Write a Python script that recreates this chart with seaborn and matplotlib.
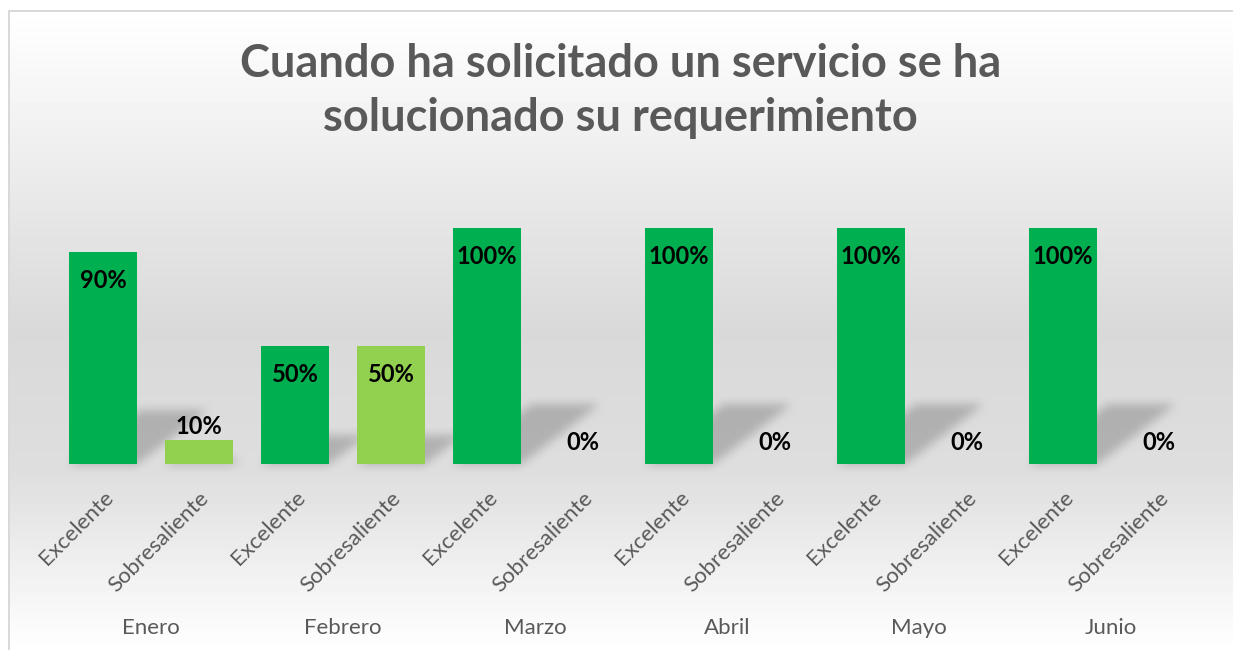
import numpy as np
import pandas as pd
import seaborn as sns
import matplotlib.pyplot as plt

# datos
meses = ['Enero', 'Febrero', 'Marzo', 'Abril', 'Mayo', 'Junio']
calificaciones = ['Excelente', 'Sobresaliente']
excelente = [0.90, 0.50, 1.00, 1.00, 1.00, 1.00]
sobresaliente = [0.10, 0.50, 0.00, 0.00, 0.00, 0.00]
titulo = 'Cuando ha solicitado un servicio se ha\nsolucionado su requerimiento'
colores = {'Excelente': '#00B050', 'Sobresaliente': '#92D050'}

plt.rcParams['font.family'] = ['Lato', 'DejaVu Sans']

rows = []
for m, e, s in zip(meses, excelente, sobresaliente):
    rows.append({'Mes': m, 'Calificacion': 'Excelente', 'Valor': e})
    rows.append({'Mes': m, 'Calificacion': 'Sobresaliente', 'Valor': s})
df = pd.DataFrame(rows)
df['Pos'] = df['Mes'] + ' ' + df['Calificacion']

W, H = 1233, 650
fig = plt.figure(figsize=(W / 100, H / 100), dpi=100)
fig.patch.set_facecolor('white')
ax = fig.add_axes([55 / W, 1 - 464 / H, 1152 / W, 236 / H])
ax.patch.set_alpha(0)
sns.barplot(data=df, x='Pos', y='Valor', hue='Calificacion', palette=colores,
            dodge=False, width=0.71, saturation=1, legend=False, ax=ax, zorder=3)
ax.set_xlim(-0.5, len(df) - 0.5)
ax.set_ylim(0, 1)
for sp in ax.spines.values():
    sp.set_visible(False)
ax.set_yticks([])
ax.set_xlabel('')
ax.set_ylabel('')
ax.set_xticks(range(len(df)))
ax.set_xticklabels(df['Calificacion'], rotation=45, ha='right', rotation_mode='anchor',
                   color='#595959', fontsize=16)
ax.tick_params(axis='x', length=0, pad=17)

# nombres de los meses
for i, m in enumerate(meses):
    ax.text(2 * i + 0.5, -(628 - 464) / 236, m, transform=ax.get_xaxis_transform(),
            ha='center', va='center', fontsize=16, color='#595959')

# etiquetas de datos
for p in ax.patches:
    cx = p.get_x() + p.get_width() / 2
    v = df['Valor'].iloc[int(round(cx))]
    if v >= 0.2:
        off = -29
    elif v == 0:
        off = 22
    else:
        off = 14
    ax.annotate(f'{v:.0%}', (cx, v), xytext=(0, off * 0.72), textcoords='offset points',
                ha='center', va='center', fontsize=17, fontweight='bold', color='black')

fig.text(0.503, 1 - 91 / H, titulo, ha='center', va='center', fontsize=32.5,
         fontweight='bold', color='#595959', linespacing=1.38)

# fondo degradado con sombras de las barras
yy = np.arange(H)[:, None].astype(float)
g = np.interp(yy, [10, 330, 470, 650], [1.0, 0.85, 0.87, 1.0])
bg = np.repeat(g, W, axis=1)

mask = np.zeros((H, W))
for p in ax.patches:
    h = p.get_height()
    if h <= 0:
        continue
    (x0, y0), (x1, y1) = ax.transData.transform([(p.get_x(), 0), (p.get_x() + p.get_width(), h)])
    r0 = H - y0
    sh = 0.26 * (y1 - y0)
    for d in range(int(sh)):
        row = int(round(r0 - d))
        a = int(round(x0 + 1.3 * d))
        b = int(round(x1 + 1.3 * d))
        mask[row, max(a, 0):min(b, W)] = 1.0


def box_blur(img, r):
    k = np.ones(2 * r + 1) / (2 * r + 1)
    img = np.apply_along_axis(lambda v: np.convolve(v, k, mode='same'), 1, img)
    img = np.apply_along_axis(lambda v: np.convolve(v, k, mode='same'), 0, img)
    return img


mask = box_blur(box_blur(mask, 5), 5)
img = bg * (1 - 0.2 * mask)
img[:10, :] = 1.0
img[:, :8] = 1.0
img[10:12, 8:] = 0.85
img[10:, 8:10] = 0.85

bax = fig.add_axes([0, 0, 1, 1], zorder=-1)
bax.imshow(img, cmap='gray', vmin=0, vmax=1, aspect='auto', extent=(0, W, H, 0),
           interpolation='nearest')
bax.axis('off')

fig.savefig('out.png', dpi=100)
